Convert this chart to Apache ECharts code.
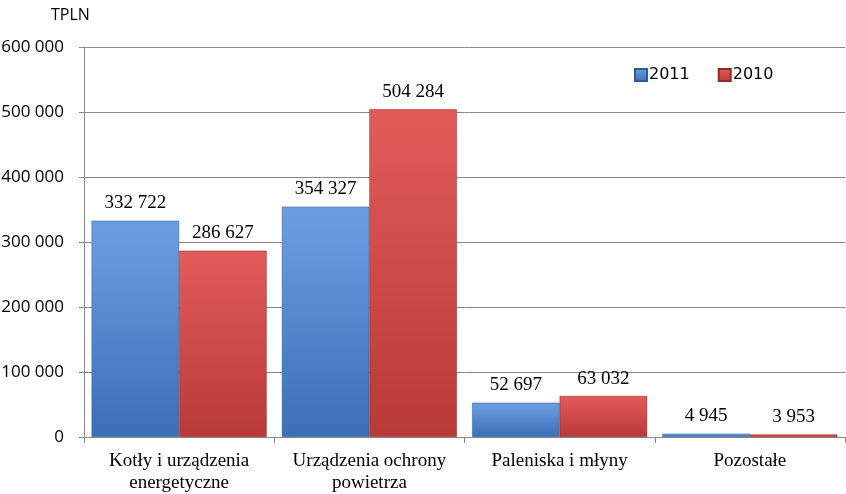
<!DOCTYPE html>
<html lang="pl">
<head>
    <meta charset="UTF-8">
    <title>TPLN</title>
    <script src="https://cdn.jsdelivr.net/npm/echarts@6/dist/echarts.min.js"></script>
    <style>
        html, body { margin: 0; padding: 0; background: #fff; }
        #chart { width: 846px; height: 494px; }
    </style>
</head>
<body>
    <div id="chart"></div>
<script>
    var categories = ['Kotły i urządzenia\nenergetyczne', 'Urządzenia ochrony\npowietrza', 'Paleniska i młyny', 'Pozostałe'];
    var values2011 = [332722, 354327, 52697, 4945];
    var values2010 = [286627, 504284, 63032, 3953];

    // spacja jako separator tysięcy
    function fmt(v) {
        return String(v).replace(/\B(?=(\d{3})+(?!\d))/g, ' ');
    }

    function grad(top, bottom) {
        return new echarts.graphic.LinearGradient(0, 0, 0, 1, [
            { offset: 0, color: top },
            { offset: 0.04, color: top },
            { offset: 1, color: bottom }
        ]);
    }

    var blue = grad('#6a9de0', '#3b6fb6');
    var red = grad('#e05a58', '#b83a38');

    var myChart = echarts.init(document.getElementById('chart'));
    var option = {
        animation: false,
        title: {
            text: 'TPLN',
            left: 46,
            top: 2,
            textStyle: { fontFamily: 'Open Sans', fontSize: 16, fontWeight: 'normal', color: '#000' }
        },
        legend: {
            data: ['2011', '2010'],
            left: 629,
            top: 62,
            itemWidth: 12,
            itemHeight: 12,
            itemGap: 28,
            icon: 'rect',
            textStyle: { fontFamily: 'DejaVu Sans', fontSize: 16, color: '#000', padding: [0, 0, 0, -3] }
        },
        grid: { left: 84, right: 1, top: 47, bottom: 57, containLabel: false, outerBoundsMode: 'none' },
        xAxis: {
            type: 'category',
            data: categories,
            axisLine: { lineStyle: { color: '#888' } },
            axisTick: { show: true, length: 6, lineStyle: { color: '#888' } },
            axisLabel: {
                interval: 0,
                hideOverlap: false,
                fontFamily: 'Liberation Serif',
                fontSize: 19,
                color: '#000',
                lineHeight: 22,
                margin: 13
            }
        },
        yAxis: {
            type: 'value',
            min: 0,
            max: 600000,
            interval: 100000,
            axisLine: { show: true, lineStyle: { color: '#888' } },
            axisTick: { show: true, length: 5, lineStyle: { color: '#888' } },
            splitLine: { lineStyle: { color: '#888' } },
            axisLabel: {
                fontFamily: 'Open Sans',
                fontSize: 17,
                color: '#000',
                margin: 20,
                formatter: function (v) { return fmt(v); }
            }
        },
        series: [{
            name: '2011',
            type: 'bar',
            data: values2011,
            barGap: '0%',
            barCategoryGap: '8%',
            itemStyle: { color: blue, borderColor: '#2f5a96', borderWidth: 0.5 },
            label: {
                show: true,
                position: 'top',
                distance: 8,
                fontFamily: 'Liberation Serif',
                fontSize: 19,
                color: '#000',
                formatter: function (p) { return fmt(p.value); }
            }
        }, {
            name: '2010',
            type: 'bar',
            data: values2010,
            itemStyle: { color: red, borderColor: '#8f2c2a', borderWidth: 0.5 },
            label: {
                show: true,
                position: 'top',
                distance: 8,
                fontFamily: 'Liberation Serif',
                fontSize: 19,
                color: '#000',
                formatter: function (p) { return fmt(p.value); }
            }
        }]
    };
    myChart.setOption(option);
</script>
</body>
</html>
